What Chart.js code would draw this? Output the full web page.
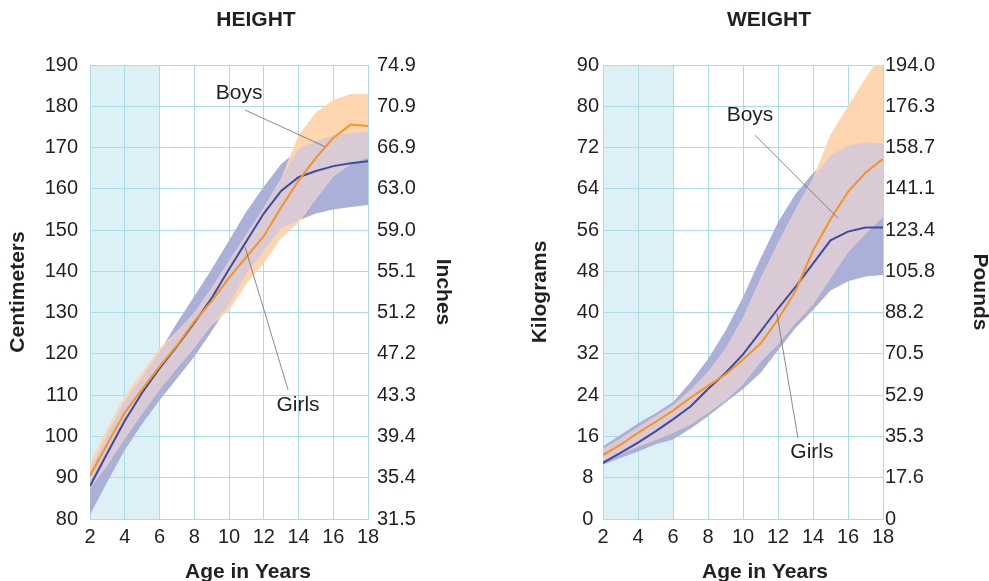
<!DOCTYPE html>
<html>
<head>
<meta charset="utf-8">
<script src="https://cdn.jsdelivr.net/npm/chart.js@4.4.1/dist/chart.umd.min.js"></script>
<style>
  html, body { margin: 0; padding: 0; background: #fff; }
  #wrap { position: relative; width: 989px; height: 581px; overflow: hidden; }
  #wrap canvas { position: absolute; top: 0; }
</style>
</head>
<body>
<div id="wrap">
  <canvas id="heightCanvas" width="494" height="581" style="left:0"></canvas>
  <canvas id="weightCanvas" width="495" height="581" style="left:494px"></canvas>
</div>
<script>
// ages on the x axis
const ages = [2, 3, 4, 5, 6, 7, 8, 9, 10, 11, 12, 13, 14, 15, 16, 17, 18];

// height, centimeters
const boysMedH   = [90.5, 98.2, 105.8, 111.4, 116.9, 122, 127.8, 132.8, 138.4, 143.5, 148.5, 155.5, 162, 167.5, 172.3, 175.6, 175.2];
const girlsMedH  = [88, 96, 103.8, 110.6, 116.5, 121.8, 127.5, 133.5, 140.5, 147.3, 154, 159.5, 162.8, 164.3, 165.5, 166.2, 166.7];
const boysHighH  = [93.5, 102, 109.8, 115.5, 121.3, 125.5, 130, 136, 142.5, 149, 155.5, 162.5, 173, 178.5, 181.5, 183, 183];
const boysLowH   = [87.5, 93, 99.5, 105.5, 111.3, 116.5, 121.5, 127, 130.5, 137, 142, 148, 151.8, 157.5, 163, 166, 167.6];
const girlsHighH = [92, 100.5, 108.5, 114.3, 120.5, 127.5, 134, 140.5, 147.5, 154.5, 160.5, 166, 169.5, 171.5, 173, 173.5, 173.8];
const girlsLowH  = [81, 89, 96.7, 103, 108.8, 114, 119.3, 125.5, 132, 139.5, 145, 150.5, 152.3, 154, 155, 155.6, 156.1];

// weight, kilograms
const boysMedW   = [12.4, 14.4, 16.7, 18.8, 21, 23.5, 25.8, 28, 30.9, 34, 38.7, 44.2, 52, 58.1, 63.4, 67.1, 69.8];
const girlsMedW  = [10.9, 12.8, 14.8, 17, 19.3, 21.8, 25.2, 28.3, 31.9, 36.3, 40.8, 45, 49.5, 54, 55.7, 56.5, 56.5];
const boysHighW  = [13.6, 15.6, 17.8, 19.9, 22, 25, 28.5, 33, 39, 46.5, 53.5, 60, 66, 74.5, 80, 85.5, 90.5];
const boysLowW   = [11.2, 12.6, 14, 15.3, 16.7, 18.3, 20.6, 23, 26.1, 30.5, 33.9, 38, 41.6, 46.6, 51.7, 55.3, 58.5];
const girlsHighW = [14.1, 16.3, 18.5, 20.5, 22.7, 26.5, 31, 36.5, 43, 50.5, 57.5, 63, 67, 70.5, 72.4, 73, 72.8];
const girlsLowW  = [10.5, 11.8, 13.1, 14.5, 15.4, 17.5, 19.9, 22.6, 25.2, 28.3, 32.7, 37, 40.5, 44.3, 46.1, 47, 47.3];

// tick labels
const cmTicks = ['80', '90', '100', '110', '120', '130', '140', '150', '160', '170', '180', '190'];
const inchTicks = ['31.5', '35.4', '39.4', '43.3', '47.2', '51.2', '55.1', '59.0', '63.0', '66.9', '70.9', '74.9'];
const kgTicks = ['0', '8', '16', '24', '32', '40', '48', '56', '64', '72', '80', '90'];
const lbTicks = ['0', '17.6', '35.3', '52.9', '70.5', '88.2', '105.8', '123.4', '141.1', '158.7', '176.3', '194.0'];

const FONT = '"Liberation Sans", Arial, Helvetica, sans-serif';
const TXT = '#231f20';
const GRID = '#a9dde7';
const ORANGE = '#f7941d';
const BLUE = '#3e4b9e';
const PEACH = '#fdd6b0';
const LILAC = '#aab0d8';
const MAUVE = '#d9cad6';

const pts = vals => ages.map((a, i) => ({ x: a, y: vals[i] }));

const panelPlugin = {
  id: 'panel',
  beforeDraw(chart, args, o) {
    const { ctx, chartArea: a, scales: { x } } = chart;
    const x0 = x.getPixelForValue(o.shade[0]);
    const x1 = x.getPixelForValue(o.shade[1]);
    ctx.save();
    ctx.fillStyle = '#dcf0f5';
    ctx.fillRect(x0, a.top, x1 - x0, a.bottom - a.top);
    ctx.restore();
  },
  afterDraw(chart, args, o) {
    const { ctx, chartArea: a, scales: { x, y } } = chart;
    const mid = (a.left + a.right) / 2;
    ctx.save();
    ctx.fillStyle = TXT;
    ctx.textAlign = 'center';
    ctx.textBaseline = 'middle';
    ctx.font = 'bold 21px ' + FONT;
    ctx.fillText(o.title, mid + o.titleShift, 20);
    ctx.fillText('Age in Years', mid + o.xTitleShift, 572);
    ctx.strokeStyle = '#6d6d6d';
    ctx.lineWidth = 0.8;
    ctx.font = '21px ' + FONT;
    o.notes.forEach(n => {
      ctx.beginPath();
      ctx.moveTo(x.getPixelForValue(n.from[0]), y.getPixelForValue(n.from[1]));
      ctx.lineTo(x.getPixelForValue(n.to[0]), y.getPixelForValue(n.to[1]));
      ctx.stroke();
      ctx.fillText(n.text, x.getPixelForValue(n.at[0]), y.getPixelForValue(n.at[1]));
    });
    ctx.restore();
  }
};

function makePanel(id, d, s) {
  const overlapLow = d.boysLow.map((v, i) => Math.max(v, d.girlsLow[i]));
  const overlapHigh = d.boysHigh.map((v, i) => Math.min(v, d.girlsHigh[i]));
  const band = (vals, fill, color) => ({
    data: pts(vals), borderWidth: 0, borderColor: 'rgba(0,0,0,0)',
    fill: fill === null ? false : { target: fill }, backgroundColor: color
  });
  return new Chart(document.getElementById(id), {
    type: 'line',
    data: {
      datasets: [
        { label: 'Boys', data: pts(d.boysMed), borderColor: ORANGE, borderWidth: 2, fill: false },
        { label: 'Girls', data: pts(d.girlsMed), borderColor: BLUE, borderWidth: 2, fill: false },
        band(overlapHigh, 3, MAUVE),
        band(overlapLow, null, 'transparent'),
        band(d.boysHigh, 5, PEACH),
        band(d.boysLow, null, 'transparent'),
        band(d.girlsHigh, 7, LILAC),
        band(d.girlsLow, null, 'transparent')
      ]
    },
    options: {
      responsive: false,
      animation: false,
      events: [],
      elements: { point: { radius: 0 }, line: { tension: 0 } },
      layout: { padding: { top: 65, right: 0, bottom: 0, left: 0 } },
      plugins: {
        legend: { display: false },
        tooltip: { enabled: false },
        panel: s.panel
      },
      scales: {
        x: {
          type: 'linear', min: 2, max: 18,
          ticks: { stepSize: 2, padding: 6, color: TXT, font: { family: FONT, size: 20 } },
          grid: { color: GRID, drawTicks: false },
          border: { color: GRID },
          afterFit: sc => { sc.height = 62; }
        },
        y: {
          position: 'left', min: s.min, max: s.max,
          ticks: {
            stepSize: s.step, padding: s.leftPad, crossAlign: s.leftAlign,
            color: TXT, font: { family: FONT, size: 20 },
            callback: (v, i) => s.leftTicks[i]
          },
          grid: { color: GRID, drawTicks: false },
          border: { color: GRID },
          title: {
            display: true, text: s.leftTitle, color: TXT,
            font: { family: FONT, size: 21, weight: 'bold' },
            padding: { top: s.leftTitleTop, bottom: 0 }
          },
          afterFit: sc => { sc.width = s.leftWidth; }
        },
        y2: {
          position: 'right', min: s.min, max: s.max,
          ticks: {
            stepSize: s.step, padding: s.rightPad,
            color: TXT, font: { family: FONT, size: 20 },
            callback: (v, i) => s.rightTicks[i]
          },
          grid: { display: false, drawTicks: false },
          border: { color: GRID },
          title: {
            display: true, text: s.rightTitle, color: TXT,
            font: { family: FONT, size: 21, weight: 'bold', lineHeight: 1 },
            padding: { top: s.rightTitleTop, bottom: 0 }
          },
          afterFit: sc => { sc.width = s.rightWidth; }
        }
      }
    },
    plugins: [panelPlugin]
  });
}

makePanel('heightCanvas',
  { boysMed: boysMedH, girlsMed: girlsMedH, boysHigh: boysHighH, boysLow: boysLowH, girlsHigh: girlsHighH, girlsLow: girlsLowH },
  {
    min: 80, max: 190, step: 10,
    leftTicks: cmTicks, rightTicks: inchTicks,
    leftTitle: 'Centimeters', rightTitle: 'Inches',
    leftWidth: 90, leftPad: 12, leftAlign: 'near', leftTitleTop: 5.4,
    rightWidth: 126, rightPad: 9, rightTitleTop: 40.5,
    panel: {
      title: 'HEIGHT', titleShift: 27, xTitleShift: 19, shade: [2, 6],
      notes: [
        { text: 'Boys', at: [10.58, 183.2], from: [10.92, 179.1], to: [15.53, 170.2] },
        { text: 'Girls', at: [13.97, 107.6], from: [13.4, 111.3], to: [10.92, 145.9] }
      ]
    }
  });

makePanel('weightCanvas',
  { boysMed: boysMedW, girlsMed: girlsMedW, boysHigh: boysHighW, boysLow: boysLowW, girlsHigh: girlsHighW, girlsLow: girlsLowW },
  {
    min: 0, max: 88, step: 8,
    leftTicks: kgTicks, rightTicks: lbTicks,
    leftTitle: 'Kilograms', rightTitle: 'Pounds',
    leftWidth: 109, leftPad: 4, leftAlign: 'center', leftTitleTop: 33.4,
    rightWidth: 106, rightPad: 2, rightTitleTop: -1,
    panel: {
      title: 'WEIGHT', titleShift: 26, xTitleShift: 22, shade: [2, 6],
      notes: [
        { text: 'Boys', at: [10.4, 78.3], from: [10.69, 74.4], to: [15.43, 58.3] },
        { text: 'Girls', at: [13.94, 13.0], from: [13.14, 15.7], to: [11.94, 39.8] }
      ]
    }
  });
</script>
</body>
</html>
